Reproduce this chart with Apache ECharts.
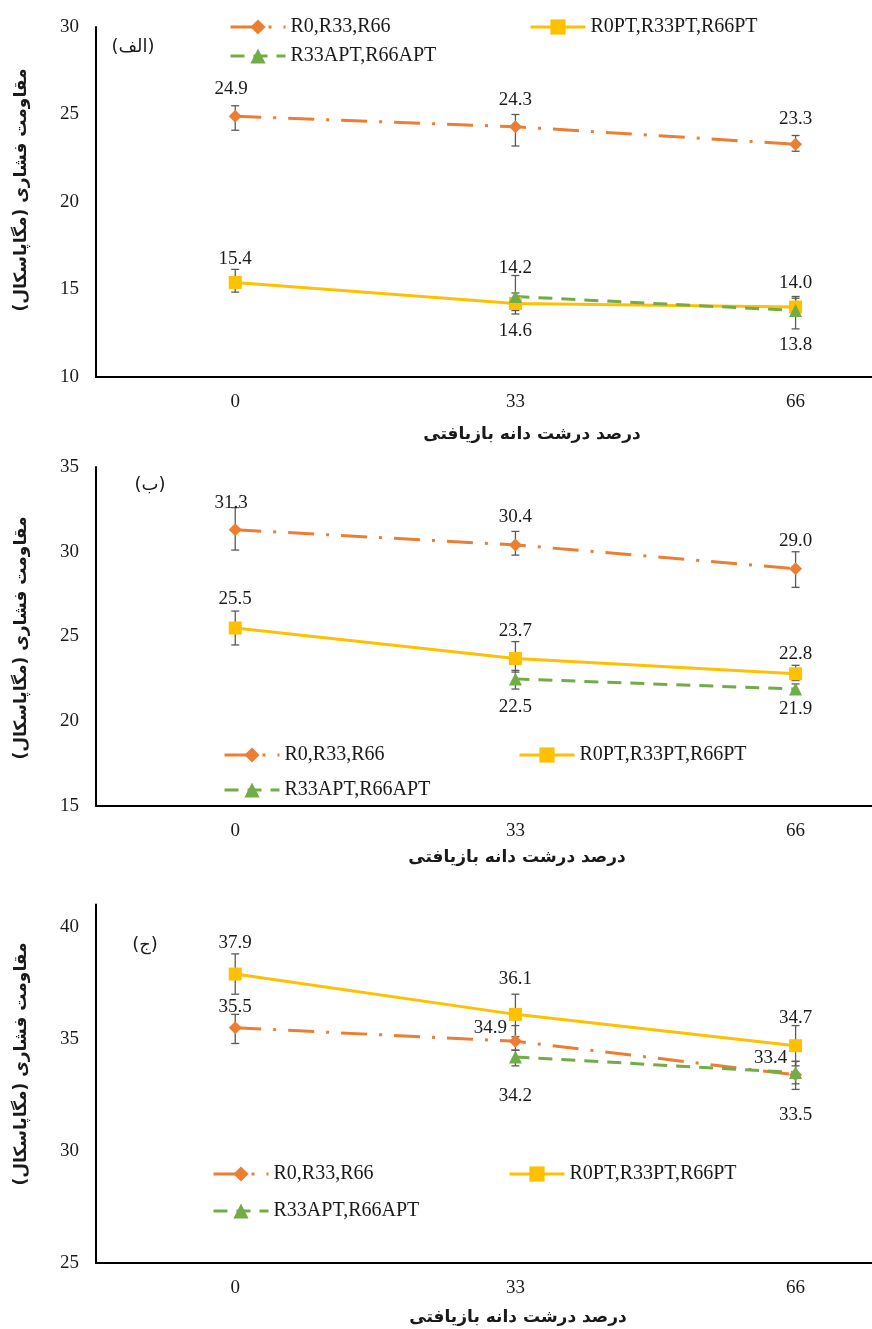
<!DOCTYPE html>
<html><head><meta charset="utf-8">
<script src="https://cdn.jsdelivr.net/npm/echarts@6/dist/echarts.min.js"></script>
<style>html,body{margin:0;padding:0;background:#fff}#c{width:872px;height:1329px}</style>
</head><body><div id="c"></div>
<script>
// ---------- DATA ----------
const categories = [0, 33, 66];
const xTickLabels = ['0', '33', '66'];
const seriesNames = ['R0,R33,R66', 'R0PT,R33PT,R66PT', 'R33APT,R66APT'];
const panelTags = ['(الف)', '(ب)', '(ج)'];
const yTitle = 'مقاومت فشاری (مگاپاسکال)';
const xTitle = 'درصد درشت دانه بازیافتی';
const yMins = [10, 15, 25];
const yMaxs = [30, 35, 41];
const yInterval = 5;

// Panel (الف)
const a_R0 = [24.9, 24.3, 23.3];
const a_R0_hi = [25.5, 25.0, 23.8];
const a_R0_lo = [24.1, 23.2, 22.9];
const a_PT = [15.4, 14.2, 14.0];
const a_PT_hi = [16.15, 14.8, 14.5];
const a_PT_lo = [14.85, 13.8, 13.7];
const a_APT = [null, 14.6, 13.8];
const a_APT_hi = [null, 15.8, 14.6];
const a_APT_lo = [null, 13.6, 12.75];

// Panel (ب)
const b_R0 = [31.3, 30.4, 29.0];
const b_R0_hi = [32.6, 31.2, 30.0];
const b_R0_lo = [30.1, 29.8, 27.9];
const b_PT = [25.5, 23.7, 22.8];
const b_PT_hi = [26.5, 24.7, 23.3];
const b_PT_lo = [24.5, 22.9, 22.4];
const b_APT = [null, 22.5, 21.9];
const b_APT_hi = [null, 23.0, 22.2];
const b_APT_lo = [null, 21.9, 21.6];

// Panel (ج)
const c_R0 = [35.5, 34.9, 33.4];
const c_R0_hi = [36.1, 35.6, 34.0];
const c_R0_lo = [34.8, 34.5, 33.0];
const c_PT = [37.9, 36.1, 34.7];
const c_PT_hi = [38.8, 37.0, 35.6];
const c_PT_lo = [37.0, 35.1, 33.8];
const c_APT = [null, 34.2, 33.5];
const c_APT_hi = [null, 34.5, 34.0];
const c_APT_lo = [null, 33.8, 32.75];

// ---------- LAYOUT / STYLE ----------
const panels = [
  { vals: [a_R0, a_PT, a_APT], hi: [a_R0_hi, a_PT_hi, a_APT_hi], lo: [a_R0_lo, a_PT_lo, a_APT_lo] },
  { vals: [b_R0, b_PT, b_APT], hi: [b_R0_hi, b_PT_hi, b_APT_hi], lo: [b_R0_lo, b_PT_lo, b_APT_lo] },
  { vals: [c_R0, c_PT, c_APT], hi: [c_R0_hi, c_PT_hi, c_APT_hi], lo: [c_R0_lo, c_PT_lo, c_APT_lo] }
];
const grids = [
  { left: 96, right: 0, top: 27, height: 350 },
  { left: 96, right: 0, top: 467, height: 339 },
  { left: 96, right: 0, top: 904.6, height: 358.4 }
];
// label offsets [dx,dy] relative to marker centre
const labelOffsets = [
  [[[-4,-27],[0,-27],[0,-25]], [[0,-23],[0,-35],[0,-24]], [null,[0,35],[0,35]]],
  [[[-4,-27],[0,-28],[0,-28]], [[0,-29],[0,-28],[0,-20]], [null,[0,28],[0,20]]],
  [[[0,-21],[-25,-13],[-25,-17]], [[0,-31],[0,-35],[0,-28]], [null,[0,39],[0,42]]]
];
const legendPos = [
  [[229, 17], [529, 17], [229, 46]],
  [[223, 745], [518, 745], [223, 780]],
  [[212, 1164], [508, 1164], [212, 1201]]
];
const tagPos = [[133, 47], [150, 485], [145, 945]];
const xTitlePos = [[532, 435], [517, 858], [518, 1318]];
const yTitlePos = [[22, 190], [22, 638], [22, 1064]];

const colors = ['#ED7D31', '#FFC000', '#70AD47'];
const symbols = ['diamond', 'rect', 'triangle'];
const lineTypes = [[26, 12, 3, 12], 'solid', [14, 9]];
const numFont = 'Liberation Serif';
const textColor = '#1a1a1a';

const series = [];
const xAxes = [], yAxes = [], legends = [], graphics = [];

panels.forEach((p, gi) => {
  xAxes.push({
    type: 'value', gridIndex: gi, min: -16.4, max: 75,
    axisLine: { show: true, onZero: false, lineStyle: { color: '#000', width: 2 } },
    axisTick: { show: false },
    splitLine: { show: false },
    axisLabel: {
      customValues: categories, margin: 16,
      formatter: v => xTickLabels[categories.indexOf(v)],
      fontFamily: numFont, fontSize: 19, color: textColor
    }
  });
  yAxes.push({
    type: 'value', gridIndex: gi, min: yMins[gi], max: yMaxs[gi], interval: yInterval,
    axisLine: { show: true, onZero: false, lineStyle: { color: '#000', width: 2 } },
    axisTick: { show: false },
    splitLine: { show: false },
    axisLabel: {
      margin: 17, fontFamily: numFont, fontSize: 19, color: textColor,
      formatter: v => (v % yInterval === 0 ? String(v) : '')
    }
  });
  // error bars
  p.vals.forEach((vals, si) => {
    const hi = p.hi[si], lo = p.lo[si];
    series.push({
      type: 'custom', xAxisIndex: gi, yAxisIndex: gi, z: 1, silent: true,
      data: categories.map((x, i) => (hi[i] == null ? null : [x, lo[i], hi[i]])).filter(Boolean),
      encode: { x: 0, y: [1, 2] },
      renderItem: (params, api) => {
        const x = api.value(0);
        const pl = api.coord([x, api.value(1)]);
        const ph = api.coord([x, api.value(2)]);
        const w = 4;
        const st = { stroke: '#5a5a5a', lineWidth: 1.3 };
        return { type: 'group', children: [
          { type: 'line', shape: { x1: pl[0], y1: pl[1], x2: ph[0], y2: ph[1] }, style: st },
          { type: 'line', shape: { x1: pl[0] - w, y1: pl[1], x2: pl[0] + w, y2: pl[1] }, style: st },
          { type: 'line', shape: { x1: ph[0] - w, y1: ph[1], x2: ph[0] + w, y2: ph[1] }, style: st }
        ] };
      }
    });
  });
  // lines
  p.vals.forEach((vals, si) => {
    const data = [];
    categories.forEach((x, i) => {
      if (vals[i] == null) return;
      data.push({ value: [x, vals[i]], label: { offset: labelOffsets[gi][si][i] } });
    });
    series.push({
      name: seriesNames[si], type: 'line', xAxisIndex: gi, yAxisIndex: gi, z: 3,
      data, symbol: symbols[si], symbolSize: 13, showSymbol: true,
      color: colors[si],
      itemStyle: { color: colors[si] },
      lineStyle: { color: colors[si], width: 3, type: lineTypes[si], cap: 'butt' },
      label: {
        show: true, position: 'inside', align: 'center', verticalAlign: 'middle',
        formatter: d => d.value[1].toFixed(1),
        fontFamily: numFont, fontSize: 19, color: textColor
      },
      emphasis: { disabled: true }
    });
  });
  // legends
  seriesNames.forEach((nm, si) => {
    legends.push({
      data: [nm], left: legendPos[gi][si][0], top: legendPos[gi][si][1],
      padding: 0, itemGap: 0, itemWidth: 55, itemHeight: 19, selectedMode: false,
      lineStyle: { width: 3 },
      textStyle: { fontFamily: numFont, fontSize: 20, color: textColor }
    });
  });
  graphics.push({
    type: 'text', x: tagPos[gi][0], y: tagPos[gi][1],
    style: { text: '\u200F' + panelTags[gi] + '\u200F', font: '18px "DejaVu Sans"', fill: textColor, align: 'center', verticalAlign: 'middle' }
  });
  graphics.push({
    type: 'text', x: xTitlePos[gi][0], y: xTitlePos[gi][1],
    style: { text: '\u200F' + xTitle + '\u200F', font: 'bold 17px "DejaVu Sans"', fill: textColor, align: 'center', verticalAlign: 'middle' }
  });
  graphics.push({
    type: 'text', x: yTitlePos[gi][0], y: yTitlePos[gi][1], rotation: Math.PI / 2,
    style: { text: '\u200F' + yTitle + '\u200F', font: 'bold 17px "DejaVu Sans"', fill: textColor, align: 'center', verticalAlign: 'middle' }
  });
});

const chart = echarts.init(document.getElementById('c'), null, { renderer: 'canvas' });
chart.setOption({
  animation: false,
  backgroundColor: '#fff',
  grid: grids,
  xAxis: xAxes,
  yAxis: yAxes,
  legend: legends,
  series,
  graphic: { elements: graphics }
});
</script></body></html>
